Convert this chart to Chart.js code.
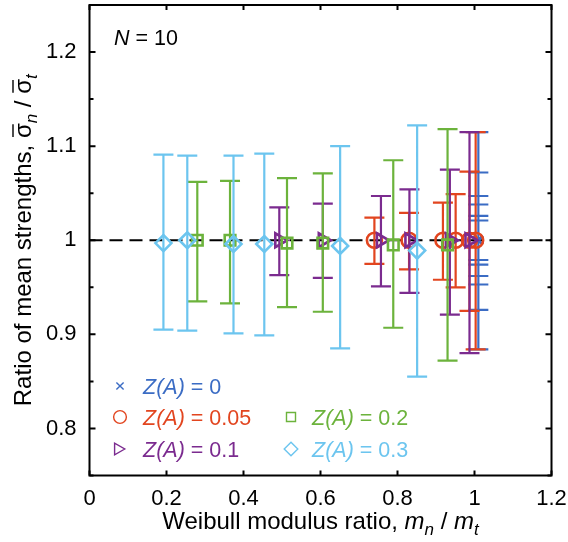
<!DOCTYPE html>
<html>
<head>
<meta charset="utf-8">
<script src="https://cdn.jsdelivr.net/npm/chart.js@4.4.1/dist/chart.umd.min.js"></script>
<style>
  html, body { margin: 0; padding: 0; background: #fff; }
</style>
</head>
<body>
<canvas id="ratio-chart" width="568" height="542"></canvas>
<script>
// axis ticks
const xTicks = [0, 0.2, 0.4, 0.6, 0.8, 1, 1.2]
const yTicks = [0.8, 0.9, 1, 1.1, 1.2]
const yMinor = [0.75, 0.85, 0.95, 1.05, 1.15, 1.25]
const refLine = 1

// series labels: Z(A) values
const zLabels = ['0', '0.05', '0.1', '0.2', '0.3']

// Z(A) = 0
const z0X = [1.01, 1.01, 1.01, 1.01, 1.01, 1.01]
const z0Y = [1.0, 1.0, 1.0, 1.0, 1.0, 1.0]
const z0Lo = [0.979, 0.974, 0.962, 0.953, 0.926, 0.884]
const z0Hi = [1.021, 1.026, 1.038, 1.047, 1.072, 1.115]
// Z(A) = 0.05
const z05X = [0.740, 0.830, 0.918, 0.951, 0.987, 1.003]
const z05Y = [1.0, 1.0, 1.0, 1.0, 1.0, 1.0]
const z05Lo = [0.975, 0.969, 0.958, 0.950, 0.925, 0.884]
const z05Hi = [1.024, 1.029, 1.040, 1.049, 1.073, 1.115]
// Z(A) = 0.1
const z1X = [0.493, 0.606, 0.757, 0.831, 0.936, 0.987]
const z1Y = [1.0, 1.0, 1.0, 1.0, 1.0, 1.0]
const z1Lo = [0.963, 0.960, 0.951, 0.944, 0.921, 0.880]
const z1Hi = [1.035, 1.039, 1.047, 1.054, 1.075, 1.115]
// Z(A) = 0.2
const z2X = [0.280, 0.365, 0.513, 0.606, 0.789, 0.930]
const z2Y = [1.0, 1.0, 0.997, 0.997, 0.995, 0.995]
const z2Lo = [0.935, 0.933, 0.929, 0.924, 0.907, 0.872]
const z2Hi = [1.062, 1.063, 1.066, 1.071, 1.085, 1.118]
// Z(A) = 0.3
const z3X = [0.192, 0.254, 0.374, 0.454, 0.651, 0.851]
const z3Y = [0.997, 1.0, 0.996, 0.996, 0.994, 0.989]
const z3Lo = [0.905, 0.904, 0.901, 0.899, 0.885, 0.855]
const z3Hi = [1.091, 1.090, 1.090, 1.092, 1.100, 1.122]

const FONT = '"Liberation Sans", Arial, sans-serif'

function pts(xs, ys, lo, hi) {
    return xs.map((x, i) => ({ x: x, y: ys[i], yMin: lo[i], yMax: hi[i] }))
}

// order matters: first dataset is painted last (on top)
const series = [
    { z: 4, data: pts(z3X, z3Y, z3Lo, z3Hi), color: '#6cc5ef', style: 'rectRot', r: 8, rot: 0, bw: 2.6 },
    { z: 3, data: pts(z2X, z2Y, z2Lo, z2Hi), color: '#6cb33c', style: 'rect', r: 7.5, rot: 0, bw: 2.6 },
    { z: 2, data: pts(z1X, z1Y, z1Lo, z1Hi), color: '#7b2b8f', style: 'triangle', r: 8, rot: 90, bw: 2.6 },
    { z: 1, data: pts(z05X, z05Y, z05Lo, z05Hi), color: '#e2451f', style: 'circle', r: 7.5, rot: 0, bw: 2.6 },
    { z: 0, data: pts(z0X, z0Y, z0Lo, z0Hi), color: '#3b6cc4', style: 'crossRot', r: 6, rot: 0, bw: 2.2 }
]

const datasets = series.map(s => ({
    label: 'Z(A) = ' + zLabels[s.z],
    data: s.data,
    borderColor: s.color,
    backgroundColor: 'rgba(0,0,0,0)',
    pointStyle: s.style,
    pointRadius: s.r,
    pointRotation: s.rot,
    pointBorderWidth: s.bw,
    showLine: false
}))

// vertical error bars with caps, drawn just under each series' markers
const errorBars = {
    id: 'errorBars',
    beforeDatasetDraw(chart, args) {
        const ds = chart.data.datasets[args.index]
        const x = chart.scales.x, y = chart.scales.y
        const ctx = chart.ctx
        ctx.save()
        ctx.strokeStyle = ds.borderColor
        ctx.lineWidth = 2.2
        ctx.beginPath()
        ds.data.forEach(p => {
            const px = x.getPixelForValue(p.x)
            const top = y.getPixelForValue(p.yMax)
            const bot = y.getPixelForValue(p.yMin)
            ctx.moveTo(px, top); ctx.lineTo(px, bot)
            ctx.moveTo(px - 10, top); ctx.lineTo(px + 10, top)
            ctx.moveTo(px - 10, bot); ctx.lineTo(px + 10, bot)
        })
        ctx.stroke()
        ctx.restore()
    }
}

function drawRuns(ctx, runs, x, y) {
    let cx = x
    runs.forEach(r => {
        ctx.font = r.font
        ctx.fillText(r.text, cx, y + (r.dy || 0))
        const w = ctx.measureText(r.text).width
        if (r.bar) {
            ctx.beginPath()
            ctx.moveTo(cx + 1, y - r.bar)
            ctx.lineTo(cx + w - 1, y - r.bar)
            ctx.stroke()
        }
        cx += w
    })
    return cx - x
}

function runsWidth(ctx, runs) {
    return runs.reduce((w, r) => { ctx.font = r.font; return w + ctx.measureText(r.text).width }, 0)
}

const tReg = '24px ' + FONT, tIta = 'italic 24px ' + FONT, tSub = 'italic 17px ' + FONT
const reg = '21.5px ' + FONT, ita = 'italic 21.5px ' + FONT

const frame = {
    id: 'frame',
    beforeDatasetsDraw(chart) {
        const { ctx, chartArea: a, scales: { y } } = chart
        const py = y.getPixelForValue(refLine)
        ctx.save()
        ctx.strokeStyle = '#000'
        ctx.lineWidth = 2
        ctx.setLineDash([13, 7])
        ctx.beginPath()
        ctx.moveTo(a.left, py); ctx.lineTo(a.right, py)
        ctx.stroke()
        ctx.restore()
    },
    afterDraw(chart) {
        const { ctx, chartArea: a, scales: { x, y } } = chart
        ctx.save()
        ctx.strokeStyle = '#000'
        ctx.fillStyle = '#000'
        ctx.lineWidth = 2
        ctx.strokeRect(a.left, a.top, a.right - a.left, a.bottom - a.top)
        // inward ticks on all four sides
        ctx.beginPath()
        xTicks.forEach(v => {
            const px = x.getPixelForValue(v)
            ctx.moveTo(px, a.bottom); ctx.lineTo(px, a.bottom - 5)
            ctx.moveTo(px, a.top); ctx.lineTo(px, a.top + 5)
        })
        yTicks.forEach(v => {
            const py = y.getPixelForValue(v)
            ctx.moveTo(a.left, py); ctx.lineTo(a.left + 6, py)
            ctx.moveTo(a.right, py); ctx.lineTo(a.right - 6, py)
        })
        yMinor.forEach(v => {
            const py = y.getPixelForValue(v)
            ctx.moveTo(a.left, py); ctx.lineTo(a.left + 4, py)
            ctx.moveTo(a.right, py); ctx.lineTo(a.right - 4, py)
        })
        ctx.stroke()

        ctx.lineWidth = 1.4
        ctx.textBaseline = 'alphabetic'
        // x title
        const xt = [
            { text: 'Weibull modulus ratio, ', font: tReg },
            { text: 'm', font: tIta },
            { text: 'n', font: tSub, dy: 6 },
            { text: ' / ', font: tReg },
            { text: 'm', font: tIta },
            { text: 't', font: tSub, dy: 6 }
        ]
        const xc = (a.left + a.right) / 2
        drawRuns(ctx, xt, xc - runsWidth(ctx, xt) / 2, 529)
        // y title, rotated
        const yt = [
            { text: 'Ratio of mean strengths, ', font: tReg },
            { text: '\u03c3', font: tReg, bar: 18 },
            { text: 'n', font: tSub, dy: 6 },
            { text: ' / ', font: tReg },
            { text: '\u03c3', font: tReg, bar: 18 },
            { text: 't', font: tSub, dy: 6 }
        ]
        ctx.save()
        ctx.translate(31, (a.top + a.bottom) / 2)
        ctx.rotate(-Math.PI / 2)
        drawRuns(ctx, yt, -runsWidth(ctx, yt) / 2, 0)
        ctx.restore()

        // N label
        drawRuns(ctx, [{ text: 'N', font: ita }, { text: ' = 10', font: reg }], 114, 45)

        // legend, two columns
        const slots = [[120, 386], [120, 417], [118, 449], [291, 417], [291, 449]]
        series.forEach(s => {
            const [lx, ly] = slots[s.z]
            ctx.strokeStyle = s.color
            ctx.fillStyle = 'rgba(0,0,0,0)'
            Chart.helpers.drawPoint(ctx, { pointStyle: s.style, radius: s.r * 0.85, rotation: s.rot, borderWidth: s.bw }, lx, ly)
            ctx.fillStyle = s.color
            drawRuns(ctx, [{ text: 'Z(A)', font: ita }, { text: ' = ' + zLabels[s.z], font: reg }], lx < 200 ? 143 : 312, ly + 8)
        })
        ctx.restore()
    }
}

const noPad = s => { s.paddingTop = 0; s.paddingBottom = 0; s.paddingLeft = 0; s.paddingRight = 0 }

const config = {
    type: 'scatter',
    data: { datasets: datasets },
    options: {
        responsive: false,
        animation: false,
        events: [],
        devicePixelRatio: 1,
        layout: { autoPadding: false, padding: { top: 5, right: 16.5, left: 0, bottom: 0 } },
        plugins: { legend: { display: false }, tooltip: { enabled: false } },
        scales: {
            x: {
                type: 'linear', min: 0, max: 1.2,
                grid: { display: false }, border: { display: false },
                afterBuildTicks: s => { s.ticks = xTicks.map(v => ({ value: v })) },
                afterFit: s => { s.height = 66.5; noPad(s) },
                ticks: { color: '#000', font: { family: FONT, size: 22 }, padding: 2, maxRotation: 0,
                    callback: v => String(+v.toFixed(2)) }
            },
            y: {
                type: 'linear', min: 0.75, max: 1.25,
                grid: { display: false }, border: { display: false },
                afterBuildTicks: s => { s.ticks = yTicks.map(v => ({ value: v })) },
                afterFit: s => { s.width = 89.5; noPad(s) },
                ticks: { color: '#000', font: { family: FONT, size: 22 }, padding: 5,
                    callback: v => String(+v.toFixed(2)) }
            }
        }
    },
    plugins: [errorBars, frame]
}

window.onload = function() {
    const ctx = document.getElementById('ratio-chart').getContext('2d')
    window.ratioChart = new Chart(ctx, config)
}
</script>
</body>
</html>
